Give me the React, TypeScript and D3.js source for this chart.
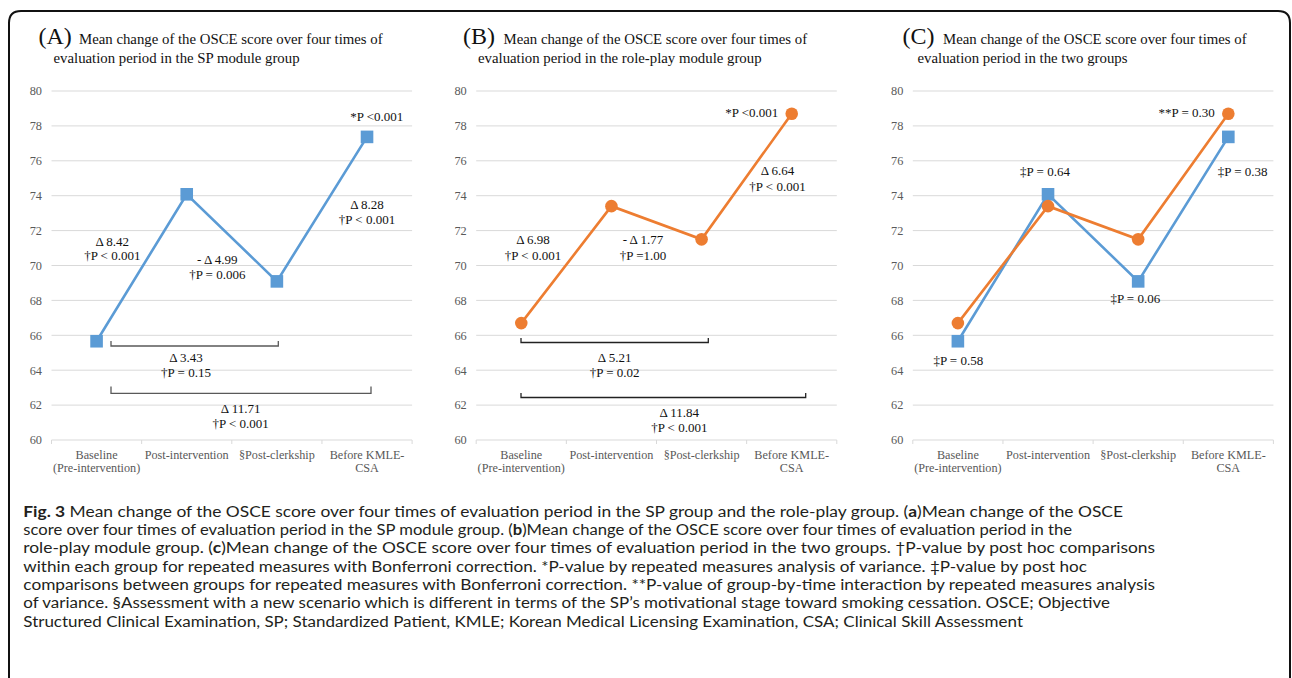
import React from "react";
import * as d3 from "d3";

const categoryLabels: string[][] = [
  ["Baseline", "(Pre-intervention)"],
  ["Post-intervention"],
  ["§Post-clerkship"],
  ["Before KMLE-", "CSA"],
];
const spValues = [65.66, 74.08, 69.09, 77.37];
const rolePlayValues = [66.7, 73.4, 71.5, 78.7];
const yTicks = [60, 62, 64, 66, 68, 70, 72, 74, 76, 78, 80];

const titleLetters = ["(A)", "(B)", "(C)"];
const titleLine1 = "Mean change of the OSCE score over four times of";
const titleLine2 = [
  "evaluation period in the SP module group",
  "evaluation period in the role-play module group",
  "evaluation period in the two groups",
];

const annotationsA = [
  { lines: ["*P <0.001"], dx: 325.2, y: [120.5] },
  { lines: ["Δ 8.28", "†P < 0.001"], dx: 315.5, y: [209, 224] },
  { lines: ["Δ 8.42", "†P < 0.001"], dx: 60.8, y: [245.5, 260] },
  { lines: ["- Δ 4.99", "†P = 0.006"], dx: 165.8, y: [263.5, 278.5] },
  { lines: ["Δ 3.43", "†P = 0.15"], dx: 134.5, y: [361.7, 376.7] },
  { lines: ["Δ 11.71", "†P < 0.001"], dx: 189.2, y: [413.3, 428.3] },
];
const annotationsB = [
  { lines: ["*P <0.001"], dx: 275.5, y: [116.7] },
  { lines: ["Δ 6.64", "†P < 0.001"], dx: 301.3, y: [175, 191] },
  { lines: ["Δ 6.98", "†P < 0.001"], dx: 56.8, y: [244, 260] },
  { lines: ["- Δ 1.77", "†P =1.00"], dx: 166.8, y: [244, 260] },
  { lines: ["Δ 5.21", "†P = 0.02"], dx: 138.4, y: [361.7, 376.7] },
  { lines: ["Δ 11.84", "†P < 0.001"], dx: 203.1, y: [416.7, 431.7] },
];
const annotationsC = [
  { lines: ["‡P = 0.64"], dx: 132.2, y: [176] },
  { lines: ["**P = 0.30"], dx: 273.9, y: [116.7] },
  { lines: ["‡P = 0.38"], dx: 329.9, y: [176] },
  { lines: ["‡P = 0.06"], dx: 222.5, y: [303.3] },
  { lines: ["‡P = 0.58"], dx: 45.5, y: [365] },
];
const bracketsA = [
  { x1: 59.5, x2: 226.8, top: 341, bottom: 346, color: "#595959" },
  { x1: 59.5, x2: 319.5, top: 386.5, bottom: 393.3, color: "#595959" },
];
const bracketsB = [
  { x1: 44.8, x2: 232.1, top: 338, bottom: 342.5, color: "#222" },
  { x1: 44.8, x2: 329.5, top: 393, bottom: 397.5, color: "#222" },
];

const captionLines = [
  [["b", "Fig. 3"], ["n", " Mean change of the OSCE score over four times of evaluation period in the SP group and the role-play group. ("], ["b", "a"], ["n", ")Mean change of the OSCE"]],
  [["n", "score over four times of evaluation period in the SP module group. ("], ["b", "b"], ["n", ")Mean change of the OSCE score over four times of evaluation period in the"]],
  [["n", "role-play module group. ("], ["b", "c"], ["n", ")Mean change of the OSCE score over four times of evaluation period in the two groups. †P-value by post hoc comparisons"]],
  [["n", "within each group for repeated measures with Bonferroni correction. *P-value by repeated measures analysis of variance. ‡P-value by post hoc"]],
  [["n", "comparisons between groups for repeated measures with Bonferroni correction. **P-value of group-by-time interaction by repeated measures analysis"]],
  [["n", "of variance. §Assessment with a new scenario which is different in terms of the SP’s motivational stage toward smoking cessation. OSCE; Objective"]],
  [["n", "Structured Clinical Examination, SP; Standardized Patient, KMLE; Korean Medical Licensing Examination, CSA; Clinical Skill Assessment"]],
];
const captionEnds = [1123, 1072, 1155, 1087, 1155, 1110, 1023];

const BLUE = "#5B9BD5";
const ORANGE = "#ED7D31";
const SERIF = "'Liberation Serif', 'Times New Roman', serif";

type Series = { values: number[]; color: string; marker: "square" | "circle" };

function Panel(props: {
  x0: number;
  titleX: number;
  idx: number;
  series: Series[];
  annotations: { lines: string[]; dx: number; y: number[] }[];
  brackets: { x1: number; x2: number; top: number; bottom: number; color: string }[];
}) {
  const { x0, titleX, idx, series, annotations, brackets } = props;
  const width = 360.6;
  const x = d3
    .scaleBand<number>()
    .domain(categoryLabels.map((_, i) => i))
    .range([x0, x0 + width])
    .padding(0);
  const y = d3.scaleLinear().domain([60, 80]).range([440, 91]);
  const cx = (i: number) => (x(i) as number) + x.bandwidth() / 2;
  const line = d3
    .line<number>()
    .x((_, i) => cx(i))
    .y((d) => y(d));
  const edges = categoryLabels.map((_, i) => x(i) as number).concat([x0 + width]);

  return (
    <g>
      <text x={titleX} y={44} fontFamily={SERIF} fill="#111">
        <tspan fontSize={24}>{titleLetters[idx]}</tspan>
        <tspan x={titleX + 40.5} fontSize={14.8}>{titleLine1}</tspan>
      </text>
      <text x={titleX + 15} y={62.5} fontFamily={SERIF} fontSize={14.8} fill="#111">
        {titleLine2[idx]}
      </text>
      {yTicks.map((t) => (
        <g key={t}>
          <line x1={x0} x2={x0 + width} y1={y(t)} y2={y(t)} stroke="#D9D9D9" strokeWidth={1} />
          <text
            x={x0 - 9.5}
            y={y(t)}
            dy="0.35em"
            textAnchor="end"
            fontFamily={SERIF}
            fontSize={12.3}
            fill="#595959"
          >
            {t}
          </text>
        </g>
      ))}
      {edges.map((e, i) => (
        <line key={i} x1={e} x2={e} y1={y(60)} y2={y(60) + 4} stroke="#D9D9D9" strokeWidth={1} />
      ))}
      {categoryLabels.map((lines, i) =>
        lines.map((l, j) => (
          <text
            key={i + "-" + j}
            x={cx(i)}
            y={458.5 + j * 13.7}
            textAnchor="middle"
            fontFamily={SERIF}
            fontSize={12.2}
            fill="#595959"
          >
            {l}
          </text>
        ))
      )}
      {brackets.map((b, i) => (
        <path
          key={i}
          d={`M${x0 + b.x1},${b.top}V${b.bottom}H${x0 + b.x2}V${b.top}`}
          fill="none"
          stroke={b.color}
          strokeWidth={1.3}
        />
      ))}
      {series.map((s, si) => (
        <g key={si}>
          <path d={line(s.values) || ""} fill="none" stroke={s.color} strokeWidth={2.6} />
          {s.values.map((v, i) =>
            s.marker === "square" ? (
              <rect key={i} x={cx(i) - 6.3} y={y(v) - 6.3} width={12.6} height={12.6} fill={s.color} />
            ) : (
              <circle key={i} cx={cx(i)} cy={y(v)} r={6.3} fill={s.color} />
            )
          )}
        </g>
      ))}
      {annotations.map((a, i) =>
        a.lines.map((l, j) => (
          <text
            key={i + "-" + j}
            x={x0 + a.dx}
            y={a.y[j]}
            textAnchor="middle"
            fontFamily={SERIF}
            fontSize={13}
            fill="#111"
          >
            {l}
          </text>
        ))
      )}
    </g>
  );
}

export default function App() {
  return (
    <svg
      width={1292}
      height={678}
      style={{ position: "absolute", left: 0, top: 0, background: "#fff" }}
    >
      <rect x={0} y={0} width={1292} height={678} fill="#fff" />
      <path
        d="M9,700V23Q9,11,21,11H1278Q1290,11,1290,23V700"
        fill="none"
        stroke="#111"
        strokeWidth={2}
      />
      <Panel
        x0={51.5}
        titleX={38.5}
        idx={0}
        series={[{ values: spValues, color: BLUE, marker: "square" }]}
        annotations={annotationsA}
        brackets={bracketsA}
      />
      <Panel
        x0={476.2}
        titleX={463}
        idx={1}
        series={[{ values: rolePlayValues, color: ORANGE, marker: "circle" }]}
        annotations={annotationsB}
        brackets={bracketsB}
      />
      <Panel
        x0={912.8}
        titleX={902.5}
        idx={2}
        series={[
          { values: spValues, color: BLUE, marker: "square" },
          { values: rolePlayValues, color: ORANGE, marker: "circle" },
        ]}
        annotations={annotationsC}
        brackets={[]}
      />
      {captionLines.map((segs, i) => (
        <text
          key={i}
          x={23.3}
          y={516.7 + i * 18.33}
          fontFamily="Lato, 'Open Sans', sans-serif"
          fontSize={15.5}
          fill="#231F20"
          textLength={captionEnds[i] - 23.3}
          lengthAdjust="spacingAndGlyphs"
        >
          {segs.map((s, j) => (
            <tspan key={j} fontWeight={s[0] === "b" ? 700 : 400}>
              {s[1]}
            </tspan>
          ))}
        </text>
      ))}
    </svg>
  );
}
